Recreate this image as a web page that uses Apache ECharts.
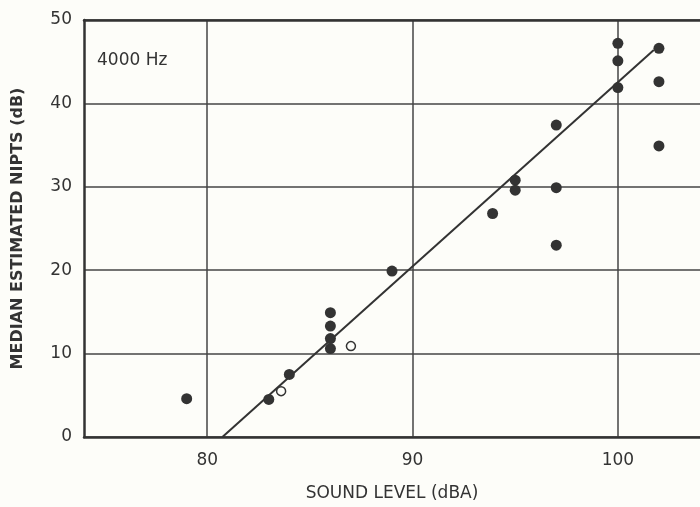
<!DOCTYPE html>
<html>
<head>
<meta charset="utf-8">
<script src="https://cdn.jsdelivr.net/npm/echarts@6/dist/echarts.min.js"></script>
<style>
  html, body { margin: 0; padding: 0; background: #fdfdf9; }
  #chart { width: 700px; height: 507px; }
</style>
</head>
<body>
<div id="chart"></div>
<script>
// Sound level (dBA) vs median estimated NIPTS (dB) at 4000 Hz
const filledLevels = [79, 83, 84, 86, 86, 86, 86, 89, 93.9, 95, 95, 97, 97, 97, 100, 100, 100, 102, 102, 102];
const filledNipts  = [4.6, 4.5, 7.5, 14.9, 13.3, 11.8, 10.6, 19.9, 26.8, 30.8, 29.6, 37.4, 29.9, 23.0, 47.2, 45.1, 41.9, 46.6, 42.6, 34.9];
const openLevels = [83.6, 87];
const openNipts  = [5.5, 10.9];
const fitLevels = [80.74, 101.75];
const fitNipts  = [0, 46.4];
const xTicks = [80, 90, 100];
const yTicks = [0, 10, 20, 30, 40, 50];

const ink = '#333333';
const font = '"DejaVu Sans", "Liberation Sans", sans-serif';
const pairs = (xs, ys) => xs.map((x, i) => [x, ys[i]]);

const chart = echarts.init(document.getElementById('chart'), null, { renderer: 'canvas' });
chart.setOption({
  backgroundColor: '#fdfdf9',
  animation: false,
  grid: { left: 84, top: 20, right: -4, bottom: 68 },
  graphic: [{
    type: 'text', left: 97, top: 52,
    style: { text: '4000 Hz', font: '17px ' + font, fill: ink }
  }],
  xAxis: [{
    type: 'value', min: 74, max: 104,
    name: 'SOUND LEVEL (dBA)', nameLocation: 'middle', nameGap: 48,
    nameTextStyle: { fontFamily: font, fontSize: 17, color: ink },
    axisLine: { show: true, onZero: false, lineStyle: { color: ink, width: 2.5 } },
    axisTick: { show: false, customValues: xTicks },
    axisLabel: { customValues: xTicks, margin: 15, fontFamily: font, fontSize: 17, color: ink },
    splitLine: { show: true, lineStyle: { color: '#444', width: 1.5 } }
  }, {
    type: 'value', min: 74, max: 104, position: 'top',
    axisLine: { show: true, onZero: false, lineStyle: { color: ink, width: 2.5 } },
    axisTick: { show: false }, axisLabel: { show: false }, splitLine: { show: false }
  }],
  yAxis: {
    type: 'value', min: 0, max: 50, interval: 10,
    name: 'MEDIAN ESTIMATED NIPTS (dB)', nameLocation: 'middle', nameGap: 58,
    nameTextStyle: { fontFamily: font, fontSize: 16, color: ink, fontWeight: 'bold' },
    axisLine: { show: true, lineStyle: { color: ink, width: 2.5 } },
    axisTick: { show: false },
    axisLabel: { margin: 12, fontFamily: font, fontSize: 17, color: ink,
      formatter: v => yTicks.includes(v) ? String(v) : '' },
    splitLine: { show: true, lineStyle: { color: '#444', width: 1.5 } }
  },
  series: [{
    type: 'line', data: pairs(fitLevels, fitNipts), symbol: 'none',
    lineStyle: { color: ink, width: 2 }, z: 3
  }, {
    type: 'scatter', data: pairs(filledLevels, filledNipts), symbolSize: 11,
    itemStyle: { color: ink, opacity: 1 }, z: 4
  }, {
    type: 'scatter', data: pairs(openLevels, openNipts), symbolSize: 9,
    itemStyle: { color: '#fdfdf9', borderColor: ink, borderWidth: 1.5, opacity: 1 }, z: 4
  }]
});
</script>
</body>
</html>
